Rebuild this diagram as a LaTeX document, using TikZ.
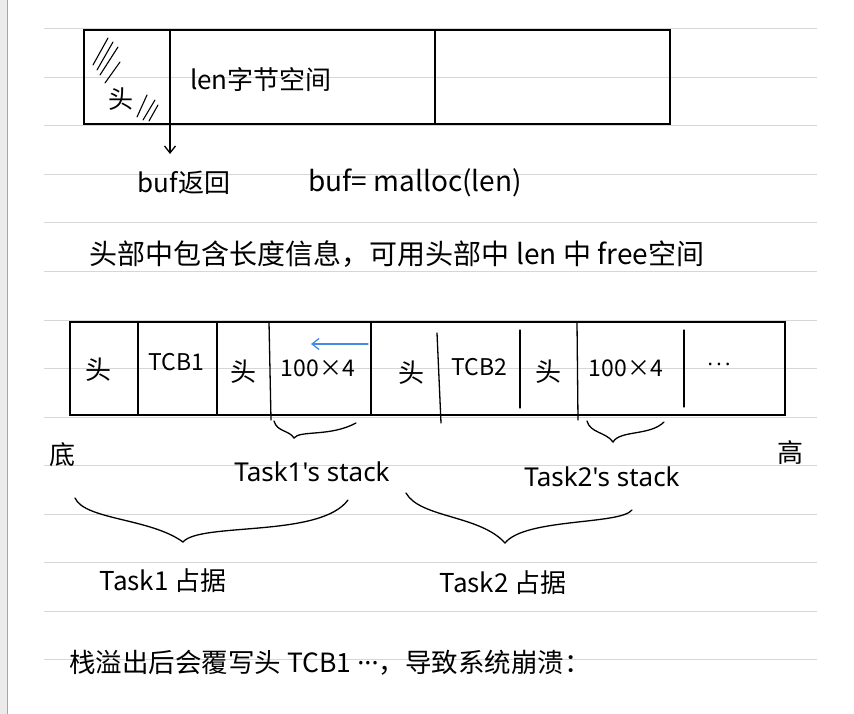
\documentclass[tikz,border=0pt]{standalone}
\usepackage{fontspec}
\setmainfont{Noto Sans CJK SC}
\newfontfamily\latinfont{Noto Sans}
\usepackage{tikz}
\usetikzlibrary{arrows.meta, positioning, shapes, fit}

\definecolor{penblue}{RGB}{70,140,225}

\begin{document}
\begin{tikzpicture}[x=1pt, y=-1pt, >={Straight Barb[length=7pt,width=11pt]},
        cell/.style={rectangle, draw, line width=1.3pt, inner sep=0pt},
        pen/.style={line width=1.3pt, line cap=round},
        hand/.style={font=\fontsize{26}{30}\selectfont, inner sep=0pt},
        label/.style={font=\fontsize{23}{27}\selectfont, inner sep=0pt},
        hatch/.style={line width=1.1pt, line cap=round},
        ruled/.style={draw=black!16, line width=1pt}
        ]
        % Page
        \useasboundingbox (0,0) rectangle (854,714);
        \fill[white] (0,0) rectangle (854,714);
        \fill[black!8] (0,0) rectangle (7,714);
        \draw[black!35, line width=1pt] (7.5,0) -- (7.5,714);
        \foreach \k in {0,...,13}
            \draw[ruled] (44,29+48.5*\k) -- (817,29+48.5*\k);

        % malloc block
        \node [cell, minimum width=586pt, minimum height=94pt] (membox) at (377,77) {};
        \draw[pen] (170,30) -- (170,124);
        \draw[pen] (435,30) -- (435,124);
        \node [label, font=\fontsize{25}{29}\selectfont] (hdtop) at (121,99) {头};
        \draw[hatch] (93,65) -- (108,38);
        \draw[hatch] (97,70) -- (113,42);
        \draw[hatch] (100,75) -- (118,47);
        \draw[hatch] (105,83) -- (120,62);
        \draw[hatch] (137,117) -- (147,95);
        \draw[hatch] (143,120) -- (155,100);
        \draw[hatch] (149,121) -- (158,105);
        \node [hand] (lenspace) at (261,80) {len字节空间};

        \coordinate (retpt) at (170,124);
        \coordinate (retend) at (170,154);
        \node [hand] (bufret) at (184,183) {buf返回};
        \node [hand, font=\fontsize{28}{32}\selectfont] (malloc) at (415,183) {buf= malloc(len)};
        \draw[pen, ->] (retpt) -- (retend);

        \node [hand, font=\fontsize{28}{32}\selectfont] (note) at (397,254) {头部中包含长度信息，可用头部中 len 中 free空间};

        % Heap with two tasks
        \node [cell, minimum width=715pt, minimum height=93pt] (stackrow) at (427.5,368.5) {};
        \draw[pen] (138,322) -- (138,415);
        \draw[pen] (217,322) -- (217,415);
        \draw[pen] (269,322) -- (271,420);
        \draw[pen] (371,322) -- (371,415);
        \draw[pen] (437,333) -- (441,423);
        \draw[pen] (520,330) -- (520,408);
        \draw[pen] (577,322) -- (578,420);
        \draw[pen] (684,330) -- (684,407);

        \node [label, font=\fontsize{26}{30}\selectfont] (hd1) at (98,370) {头};
        \node [label] (tcb1) at (176,362) {TCB1};
        \node [label, font=\fontsize{26}{30}\selectfont] (hd2) at (243,372) {头};
        \node [label] (stk1) at (318,368) {100×4};
        \node [label, font=\fontsize{26}{30}\selectfont] (hd3) at (411,373) {头};
        \node [label] (tcb2) at (479,367) {TCB2};
        \node [label, font=\fontsize{26}{30}\selectfont] (hd4) at (548,372) {头};
        \node [label] (stk2) at (626,368) {100×4};
        \node [label, font=\latinfont\fontsize{20}{24}\selectfont] (more) at (719,367) {·\,·\,·};

        \coordinate (growa) at (368,344);
        \coordinate (growb) at (311,344);
        \draw[pen, penblue, ->] (growa) -- (growb);

        \node [label, font=\fontsize{26}{30}\selectfont] (low) at (62,455) {底};
        \node [label, font=\fontsize{26}{30}\selectfont] (high) at (790,453) {高};

        % Braces
        \draw[pen] (274,421) .. controls (277,432) and (289,430) .. (294,438)
                   .. controls (300,430) and (330,437) .. (356,423);
        \draw[pen] (587,421) .. controls (590,433) and (606,432) .. (613,442)
                   .. controls (620,430) and (650,436) .. (664,422);
        \node [hand, font=\latinfont\fontsize{26}{30}\selectfont] (stk1lbl) at (312,472) {Task1's stack};
        \node [hand, font=\latinfont\fontsize{26}{30}\selectfont] (stk2lbl) at (602,477) {Task2's stack};

        \draw[pen] (75,498) .. controls (85,520) and (150,518) .. (183,542)
                   .. controls (200,522) and (320,538) .. (348,500);
        \draw[pen] (406,493) .. controls (420,518) and (480,515) .. (505,543)
                   .. controls (525,518) and (620,525) .. (632,510);
        \node [hand] (task1) at (163,581) {Task1 占据};
        \node [hand] (task2) at (503,583) {Task2 占据};

        \node [hand, font=\fontsize{26.5}{30}\selectfont] (overflow) at (330,663) {栈溢出后会覆写头 TCB1 {\latinfont ···}，导致系统崩溃：};
\end{tikzpicture}
\end{document}
